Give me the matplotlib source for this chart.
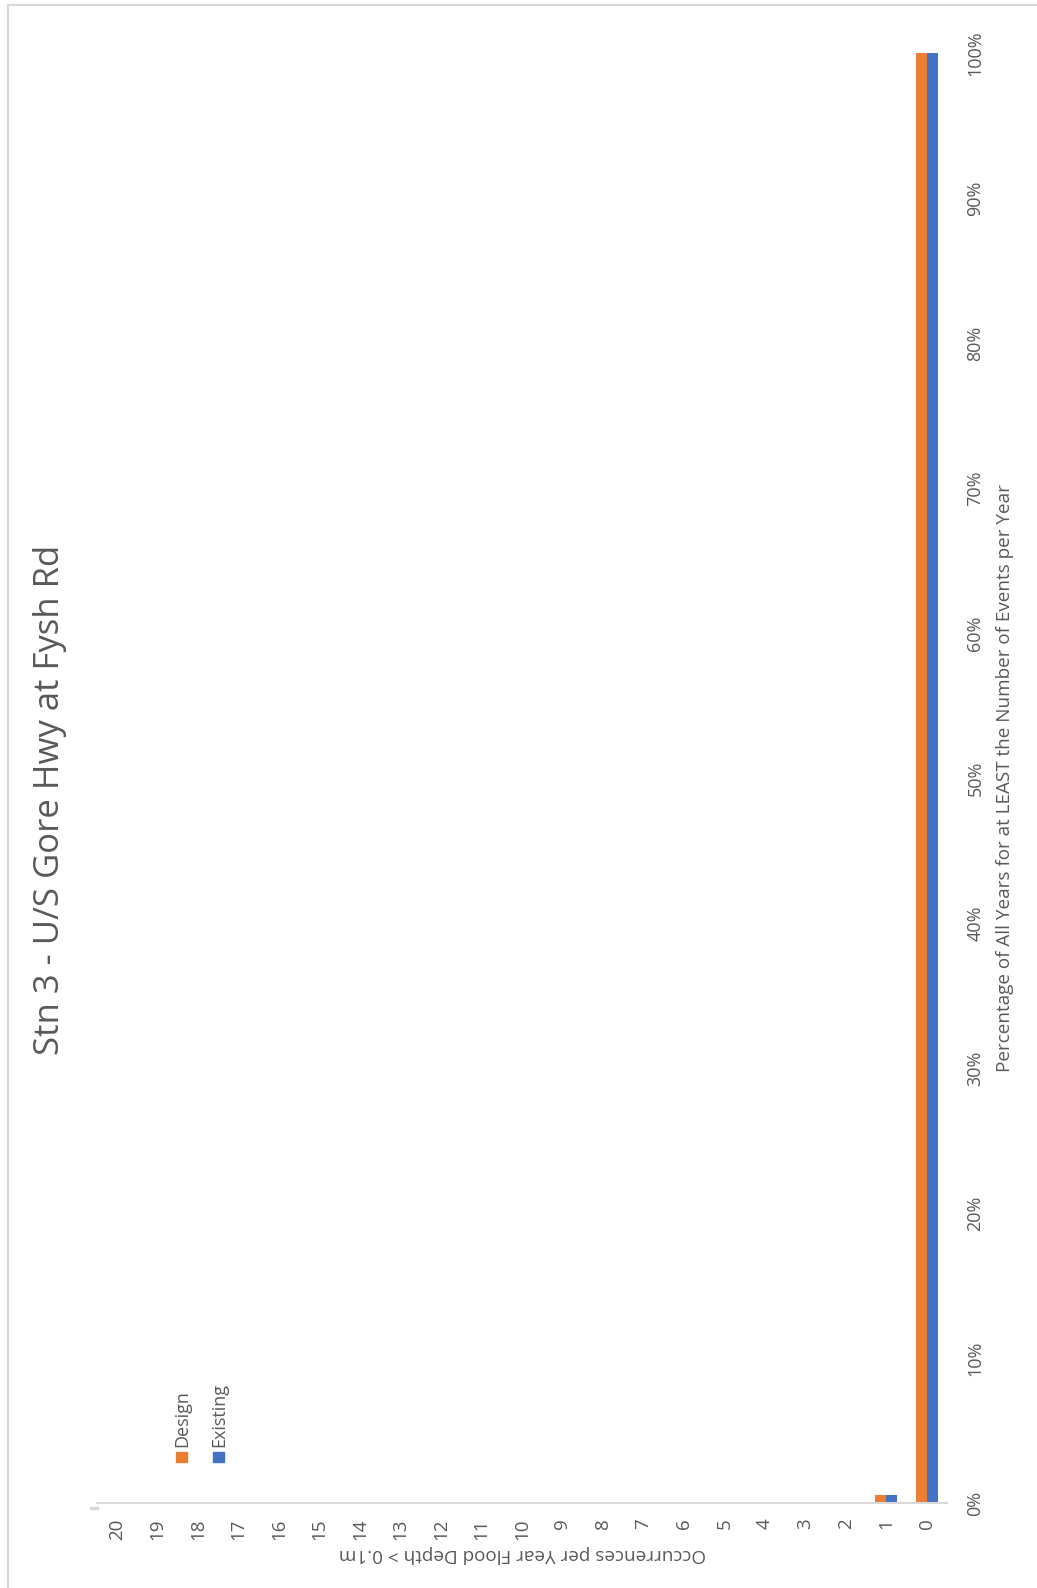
import matplotlib
matplotlib.use("Agg")
import matplotlib.pyplot as plt
from matplotlib.lines import Line2D
from matplotlib.patches import Rectangle
from matplotlib.ticker import FuncFormatter, MultipleLocator
import numpy as np

plt.rcParams["font.family"] = ["Open Sans", "DejaVu Sans"]

TITLE = "Stn 3 - U/S Gore Hwy at Fysh Rd"
XLABEL = "Occurrences per Year Flood Depth > 0.1m"
YLABEL = "Percentage of All Years for at LEAST the Number of Events per Year"

categories = list(range(0, 21))
design = [1.0, 0.0054] + [0.0] * 19
existing = [1.0, 0.0054] + [0.0] * 19
series_names = ["Design", "Existing"]

ORANGE = "#ED7D31"
BLUE = "#4472C4"
TEXT = "#595959"
LINE = "#D9D9D9"

W, H = 1037, 1588
fig = plt.figure(figsize=(W / 100, H / 100), dpi=100)


def fx(px):
    return px / W


def fy(py):
    return 1 - py / H


# chart sheet is turned on its side: categories run right-to-left along the bottom
ax = fig.add_axes([fx(97), fy(1503), fx(850), 1450 / H])
x = np.array(categories, dtype=float)
bw = 0.27
ax.bar(x + bw / 2, design, width=bw, color=ORANGE, label=series_names[0])
ax.bar(x - bw / 2, existing, width=bw, color=BLUE, label=series_names[1])
ax.set_xlim(20.5, -0.5)
ax.set_ylim(0, 1.0)

for s in ["top", "left", "right"]:
    ax.spines[s].set_visible(False)
ax.spines["bottom"].set_color(LINE)
ax.spines["bottom"].set_linewidth(1.5)

ax.set_xticks(categories)
ax.set_xticklabels([str(c) for c in categories])
ax.tick_params(axis="x", length=0, pad=11, labelrotation=90, labelsize=13.5, labelcolor=TEXT)

ax.yaxis.tick_right()
ax.yaxis.set_major_locator(MultipleLocator(0.1))
ax.yaxis.set_major_formatter(FuncFormatter(lambda v, p: f"{v * 100:.0f}%"))
ax.tick_params(axis="y", length=0, pad=14, labelrotation=90, labelsize=13, labelcolor=TEXT)
for t in ax.get_yticklabels():
    t.set_verticalalignment("center")

ax.set_xlabel(XLABEL, rotation=180, fontsize=13.6, color=TEXT, labelpad=4)
ax.yaxis.set_label_position("right")
ax.set_ylabel(YLABEL, rotation=90, fontsize=13.6, color=TEXT, labelpad=8)

fig.text(fx(50), fy(800), TITLE, rotation=90, ha="center", va="center",
         fontsize=25, color=TEXT)

# legend, laid out sideways like the rest of the sheet
for xs, name, col in [(176, series_names[0], ORANGE), (213, series_names[1], BLUE)]:
    fig.patches.append(Rectangle((fx(xs), fy(1462)), fx(11), 10 / H,
                                 transform=fig.transFigure, color=col))
    fig.text(fx(xs + 6), fy(1447), name, rotation=90, ha="center", va="bottom",
             fontsize=13, color=TEXT)

# chart area border
fig.lines.append(Line2D([fx(8), fx(8)], [0, fy(5)], transform=fig.transFigure,
                        color=LINE, lw=1.5))
fig.lines.append(Line2D([fx(8), 1], [fy(5), fy(5)], transform=fig.transFigure,
                        color=LINE, lw=1.5))
fig.lines.append(Line2D([fx(91), fx(97)], [fy(1507.5), fy(1507.5)],
                        transform=fig.transFigure, color=LINE, lw=2.5))

fig.savefig("out.png", dpi=100, facecolor="white")
